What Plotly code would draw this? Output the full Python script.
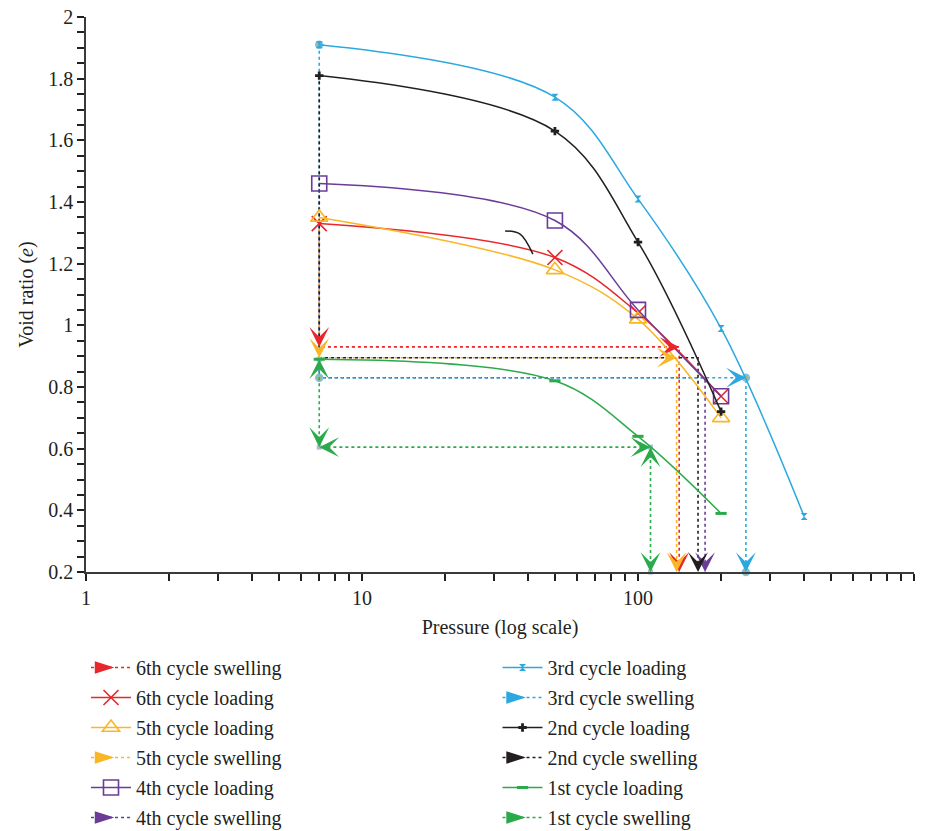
import numpy as np
import plotly.graph_objects as go

# ---------------- data ----------------
P_LOAD = [7, 50, 100, 200]
P_LOAD3 = [7, 50, 100, 200, 400]

E6_LOAD = [1.33, 1.22, 1.04, 0.77]
E5_LOAD = [1.35, 1.18, 1.02, 0.70]
E4_LOAD = [1.46, 1.34, 1.05, 0.77]
E3_LOAD = [1.91, 1.74, 1.41, 0.99, 0.38]
E2_LOAD = [1.81, 1.63, 1.27, 0.72]
E1_LOAD = [0.89, 0.82, 0.64, 0.39]

# stray black segment visible in the figure
P_STRAY = [33, 37.4, 41.6]
E_STRAY = [1.306, 1.296, 1.231]

SW_NAMES = ["6th cycle swelling", "5th cycle swelling", "4th cycle swelling",
            "3rd cycle swelling", "2nd cycle swelling", "1st cycle swelling"]
SW_P_START = [7, 7, 7, 7, 7, 7]
SW_E_TOP = [1.33, 1.35, 1.46, 1.91, 1.81, 0.89]
SW_E_LEVEL = [0.93, 0.895, 0.83, 0.83, 0.895, 0.605]
SW_P_END = [141, 138, 175, 246, 165, 111]
E_BASE = 0.2

# arrows: (vertex index in path, direction)
SW_ARROWS = [
    [(1, "down"), (2, "right"), (3, "down")],
    [(1, "down"), (2, "right"), (3, "down")],
    [(3, "down")],
    [(2, "right"), (3, "down")],
    [(3, "down")],
    [(0, "up"), (1, "down"), (1, "left"), (2, "right"), (2, "up"), (3, "down")],
]

X_TICKVALS = [1, 10, 100, 1000]
X_TICKTEXT = ["1", "10", "100", "1,000"]

# ---------------- style ----------------
RED = "#E8262B"
YELLOW = "#F9B625"
PURPLE = "#6A3C98"
BLUE = "#2BA8E0"
BLACK = "#231F20"
GREEN = "#2BAA4B"
SW_COLORS = [RED, YELLOW, PURPLE, BLUE, BLACK, GREEN]
FONT = "Liberation Serif"

fig = go.Figure()

# ---- swelling dotted paths ----
for i in range(6):
    xs = [SW_P_START[i], SW_P_START[i], SW_P_END[i], SW_P_END[i]]
    ys = [SW_E_TOP[i], SW_E_LEVEL[i], SW_E_LEVEL[i], E_BASE]
    mk = dict(size=0.1)
    mode = "lines"
    if i == 3:
        mode = "lines+markers"
        mk = dict(symbol="circle", size=7, color="#A6B886",
                  line=dict(color="#7CC3EA", width=1.5))
    if i == 5:
        mode = "lines+markers"
        mk = dict(symbol="square", size=5, color="#A9BDD6")
    fig.add_trace(go.Scatter(
        x=xs, y=ys, mode=mode, marker=mk,
        line=dict(color=SW_COLORS[i], width=1.6, dash="dot"),
        showlegend=False, hoverinfo="skip", cliponaxis=False))

# ---- loading curves ----
loads = [
    ("6th cycle loading", P_LOAD, E6_LOAD, RED,
     dict(symbol="x-thin-open", size=15, line=dict(color=RED, width=1.6)), "legend", 2),
    ("5th cycle loading", P_LOAD, E5_LOAD, YELLOW,
     dict(symbol="triangle-up-open", size=15, color=YELLOW, line=dict(width=1.6)), "legend", 3),
    ("4th cycle loading", P_LOAD, E4_LOAD, PURPLE,
     dict(symbol="square-open", size=15, color=PURPLE, line=dict(width=1.6)), "legend", 5),
    ("3rd cycle loading", P_LOAD3, E3_LOAD, BLUE,
     dict(symbol="hourglass", size=7, color=BLUE), "legend2", 1),
    ("2nd cycle loading", P_LOAD, E2_LOAD, BLACK,
     dict(symbol="cross", size=7, color=BLACK), "legend2", 3),
    ("1st cycle loading", P_LOAD, E1_LOAD, GREEN,
     dict(symbol="line-ew-open", size=8, line=dict(color=GREEN, width=3)), "legend2", 5),
]
for name, px_, ey, col, mk, lg, rank in loads:
    fig.add_trace(go.Scatter(
        x=px_, y=ey, mode="lines+markers", name=name,
        line=dict(color=col, width=1.5, shape="spline", smoothing=1.0),
        marker=mk, legend=lg, legendrank=rank, legendgroup=name))

fig.add_trace(go.Scatter(x=P_STRAY, y=E_STRAY, mode="lines",
                         line=dict(color=BLACK, width=1.5, shape="spline"),
                         showlegend=False, hoverinfo="skip"))

# ---- swelling legend proxies ----
SW_RANKS = [1, 4, 6, 2, 4, 6]
SW_LEG = ["legend", "legend", "legend", "legend2", "legend2", "legend2"]
for i in range(6):
    fig.add_trace(go.Scatter(
        x=[None], y=[None], mode="lines+markers", name=SW_NAMES[i],
        line=dict(color=SW_COLORS[i], width=1.6, dash="dot"),
        marker=dict(symbol="arrow", angle=90, size=16, color=SW_COLORS[i],
                    line=dict(color=SW_COLORS[i], width=2)),
        legend=SW_LEG[i], legendrank=SW_RANKS[i], legendgroup=SW_NAMES[i]))

# ---- arrowheads ----
L = 10
DIRS = {"down": (0, -L), "up": (0, L), "right": (-L, 0), "left": (L, 0)}
annotations = []
for i in range(6):
    xs = [SW_P_START[i], SW_P_START[i], SW_P_END[i], SW_P_END[i]]
    ys = [SW_E_TOP[i], SW_E_LEVEL[i], SW_E_LEVEL[i], E_BASE]
    for idx, d in SW_ARROWS[i]:
        ax, ay = DIRS[d]
        annotations.append(dict(
            x=float(np.log10(xs[idx])), y=ys[idx], xref="x", yref="y",
            text="", showarrow=True, arrowhead=3, arrowsize=3.3, arrowwidth=1,
            arrowcolor=SW_COLORS[i], ax=ax, ay=ay, standoff=0))

axis_common = dict(
    showgrid=False, zeroline=False, showline=True, linecolor="#3a3a3a", linewidth=1.5,
    ticks="outside", ticklen=7, tickwidth=1.5, tickcolor=BLACK,
    tickfont=dict(family=FONT, size=20, color=BLACK),
)

MINOR_X = [m * 10 ** k for k in range(3) for m in range(2, 10)]

legend_common = dict(
    yref="container", y=0.2202, xanchor="left", yanchor="top",
    traceorder="grouped", tracegroupgap=1,
    font=dict(family=FONT, size=20, color=BLACK),
    bgcolor="rgba(0,0,0,0)", itemwidth=40,
)

fig.update_layout(
    width=935, height=831,
    margin=dict(l=86, r=21, t=17, b=259, autoexpand=False),
    paper_bgcolor="white", plot_bgcolor="white",
    font=dict(family=FONT, size=20, color=BLACK),
    xaxis=dict(type="log", range=[0, 3], tickmode="array",
               tickvals=X_TICKVALS, ticktext=X_TICKTEXT,
               minor=dict(tickmode="array", tickvals=MINOR_X, ticks="outside",
                          ticklen=7, tickwidth=1.5, tickcolor=BLACK, showgrid=False),
               title=dict(text="Pressure (log scale)", font=dict(family=FONT, size=20),
                          standoff=12),
               **axis_common),
    yaxis=dict(range=[0.2, 2], tick0=0.2, dtick=0.2,
               minor=dict(dtick=0.05, tick0=0.2, ticks="outside", ticklen=7,
                          tickwidth=1.5, tickcolor=BLACK, showgrid=False),
               title=dict(text="Void ratio (<i>e</i>)", font=dict(family=FONT, size=20),
                          standoff=9),
               **axis_common),
    legend=dict(x=0.0, **legend_common),
    legend2=dict(x=0.497, **legend_common),
    annotations=annotations,
    showlegend=True,
)

fig.write_html("out.html")
